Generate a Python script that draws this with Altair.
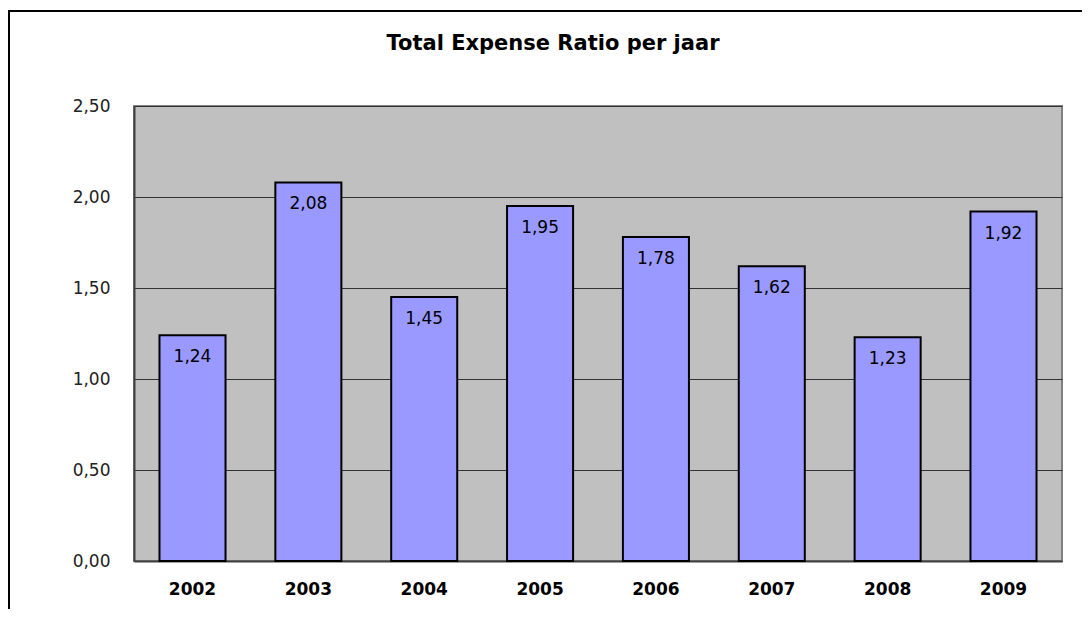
import altair as alt
import pandas as pd

years = ["2002", "2003", "2004", "2005", "2006", "2007", "2008", "2009"]
ratios = [1.24, 2.08, 1.45, 1.95, 1.78, 1.62, 1.23, 1.92]
y_ticks = [0, 0.5, 1.0, 1.5, 2.0, 2.5]
chart_title = ["Total Expense Ratio per jaar"]

df = pd.DataFrame({"jaar": years, "ter": ratios})
FONT = "DejaVu Sans"

x_enc = alt.X(
    "jaar:N", sort=years, title=None,
    scale=alt.Scale(paddingInner=0.43, paddingOuter=0.22),
    axis=alt.Axis(labelAngle=0, labelFont=FONT, labelFontSize=17, labelFontWeight="bold",
                  labelColor="black", ticks=False, labelPadding=20,
                  domainColor="#404040", domainWidth=2, grid=False),
)
y_enc = alt.Y(
    "ter:Q", title=None,
    scale=alt.Scale(domain=[0, 2.5], nice=False),
    axis=alt.Axis(values=y_ticks,
                  labelExpr="replace(format(datum.value, '.2f'), '.', ',')",
                  labelFont=FONT, labelFontSize=17, labelColor="#222222",
                  ticks=False, labelPadding=24, domainColor="#404040", domainWidth=2,
                  grid=True, gridColor="#333333", gridWidth=1),
)

bars = alt.Chart(df).mark_bar(color="#9999FF", stroke="black", strokeWidth=2).encode(
    x=x_enc, y=y_enc
)

labels = alt.Chart(df).transform_calculate(
    lbl="replace(format(datum.ter, '.2f'), '.', ',')"
).mark_text(font=FONT, fontSize=17, color="black", baseline="middle", dy=22).encode(
    x=alt.X("jaar:N", sort=years), y=alt.Y("ter:Q"), text="lbl:N"
)

title_text = alt.Chart(pd.DataFrame({"t": chart_title})).mark_text(
    font=FONT, fontSize=21, fontWeight="bold", color="black",
    align="center", baseline="middle"
).encode(x=alt.value(419), y=alt.value(-62), text="t:N")

frame = alt.Chart(pd.DataFrame({"f": [0]})).mark_rect(
    fillOpacity=0, stroke="black", strokeWidth=2
).encode(x=alt.value(-125), x2=alt.value(960), y=alt.value(-95), y2=alt.value(520))

chart = alt.layer(bars, labels, title_text, frame).properties(
    width=928, height=455,
    padding={"left": 126, "top": 98, "right": 20, "bottom": 48},
    autosize="none",
    background="white",
).configure_view(fill="#C0C0C0", stroke="#808080", strokeWidth=2)

chart.save("out.html", embed_options={"renderer": "svg", "actions": False})
